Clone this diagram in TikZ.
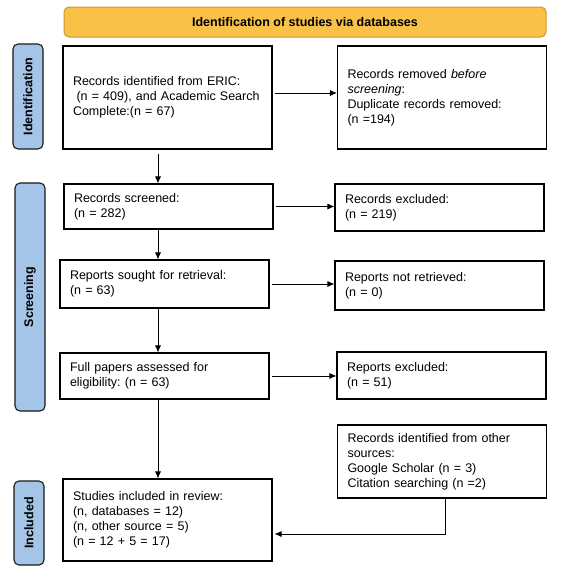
\documentclass[tikz,border=0pt]{standalone}
\usepackage{fontspec}
\setmainfont{Liberation Sans}             % police proche d'Arial
\usepackage{tikz}
\usetikzlibrary{arrows.meta,              % pointes de fleches
           calc}                          % Calculs de coordonnees
\frenchspacing
\definecolor{entete}{RGB}{249,193,71}
\definecolor{bordentete}{RGB}{201,152,52}
\definecolor{phasebleu}{RGB}{164,196,232}
\tikzset{
  boite/.style={draw, line width=1.1pt, rectangle, align=left, text width=189pt,
    inner xsep=10pt, inner ysep=2pt, font=\fontsize{12.5}{15}\selectfont},
  phase/.style={draw=black!90, line width=1.1pt, fill=phasebleu, rounded corners=5pt,
    rotate=90, minimum height=30pt, inner sep=0pt, font=\fontsize{12.5}{15}\selectfont\bfseries},
  fleche/.style={-{Latex[length=7pt,width=6pt]}, line width=0.8pt}
}

\begin{document}
\begin{tikzpicture}[x=1pt,y=-1pt]
\useasboundingbox (0,0) rectangle (563,576);
\node[draw=bordentete, line width=1pt, fill=entete, rounded corners=5pt, minimum width=482pt,
  minimum height=30pt, font=\fontsize{12.5}{15}\selectfont\bfseries] (titre) at (305,22)
  {Identification of studies via databases};
\node[phase, minimum width=105pt] (identif) at (28,96.5) {Identification};
\node[phase, minimum width=228pt] (criblage) at (30,297) {Screening};
\node[phase, minimum width=84pt] (inclus) at (29,523) {Included};

\node[boite, minimum height=103pt] (bases) at (167.5,97.5)
  {Records identified from ERIC:\\\hspace*{0.28em}(n = 409), and Academic Search\\Complete:(n = 67)};
\node[boite, minimum height=103pt] (doublons) at (442,97.5)
  {Records removed \textit{before}\\\textit{screening}:\\Duplicate records removed:\\(n =194)};
\node[boite, minimum height=45pt] (tries) at (168.5,206.5) {Records screened:\\(n = 282)};
\node[boite, minimum height=47pt] (exclus) at (439.5,207.5) {Records excluded:\\(n = 219)};
\node[boite, minimum height=48pt] (cherches) at (164.5,284) {Reports sought for retrieval:\\(n = 63)};
\node[boite, minimum height=49pt] (nonobtenus) at (439.5,285.5) {Reports not retrieved:\\(n = 0)};
\node[boite, minimum height=46pt] (evalues) at (164.5,376) {Full papers assessed for\\eligibility: (n = 63)};
\node[boite, minimum height=47pt] (rejetes) at (441.5,375.5) {Reports excluded:\\(n = 51)};
\node[boite, minimum height=73pt] (autres) at (442,461.5)
  {Records identified from other\\sources:\\Google Scholar (n = 3)\\Citation searching (n =2)};
\node[boite, minimum height=82pt] (etudes) at (167.5,520)
  {Studies included in review:\\(n, databases = 12)\\(n, other source = 5)\\(n = 12 + 5 = 17)};

\coordinate (axe) at (158,0);
\draw[fleche, shorten <=2pt] ([yshift=4.5pt]bases.east) -- ([yshift=4.5pt]bases.east -| doublons.west);
\draw[fleche, shorten <=2pt] (tries.east) -- (tries.east -| exclus.west);
\draw[fleche, shorten <=2pt] (cherches.east) -- (cherches.east -| nonobtenus.west);
\draw[fleche, shorten <=2pt] (evalues.east) -- (evalues.east -| rejetes.west);
\draw[fleche, shorten <=4pt] (bases.south -| axe) -- (tries.north -| axe);
\draw[fleche] (tries.south -| axe) -- (cherches.north -| axe);
\draw[fleche] (cherches.south -| axe) -- (evalues.north -| axe);
\draw[fleche] (evalues.south -| axe) -- (etudes.north -| axe);
\draw[fleche, shorten >=2pt] ([xshift=3pt]autres.south) |- ([yshift=-14pt]etudes.east);
\end{tikzpicture}
\end{document}
